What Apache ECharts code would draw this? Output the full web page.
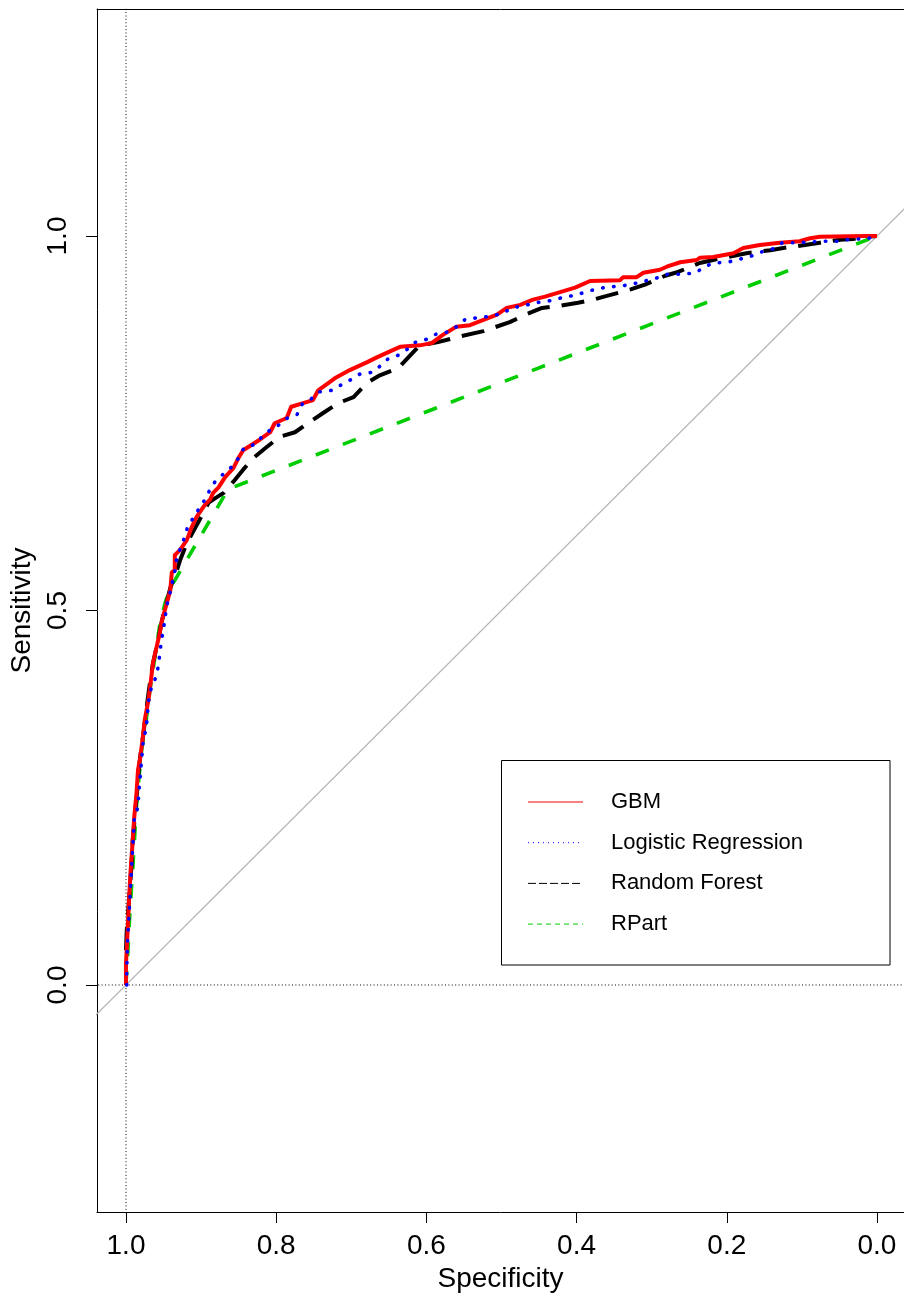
<!DOCTYPE html>
<html>
<head>
<meta charset="utf-8">
<script src="https://cdn.jsdelivr.net/npm/echarts@6/dist/echarts.min.js"></script>
<style>
html,body{margin:0;padding:0;background:#fff;}
#chart{width:904px;height:1301px;}
</style>
</head>
<body>
<div id="chart"></div>
<script>
// ---- data (specificity, sensitivity) ----
const xTicks = [0, 0.2, 0.4, 0.6, 0.8, 1.0];
const yTicks = [0, 0.5, 1.0];

const gbmSpec = [1.000,1.000,0.998,0.996,0.994,0.991,0.989,0.986,0.984,0.981,0.978,0.975,0.970,0.964,0.955,0.952,0.947,0.941,0.939,0.935,0.935,0.928,0.919,0.913,0.906,0.895,0.888,0.884,0.877,0.868,0.857,0.850,0.844,0.833,0.822,0.808,0.802,0.786,0.780,0.764,0.751,0.744,0.722,0.702,0.678,0.666,0.644,0.635,0.609,0.593,0.578,0.560,0.542,0.524,0.506,0.493,0.475,0.458,0.442,0.422,0.402,0.382,0.342,0.338,0.320,0.311,0.289,0.280,0.262,0.240,0.236,0.218,0.191,0.178,0.156,0.129,0.103,0.089,0.076,0.014,0.000];
const gbmSens = [0.000,0.029,0.069,0.113,0.150,0.194,0.224,0.256,0.287,0.304,0.327,0.354,0.381,0.430,0.470,0.487,0.505,0.527,0.551,0.554,0.574,0.581,0.594,0.610,0.625,0.641,0.648,0.657,0.664,0.678,0.690,0.704,0.714,0.721,0.728,0.738,0.750,0.757,0.772,0.777,0.781,0.794,0.810,0.821,0.832,0.838,0.848,0.852,0.854,0.857,0.868,0.879,0.881,0.888,0.895,0.904,0.908,0.915,0.919,0.925,0.931,0.940,0.941,0.945,0.945,0.951,0.955,0.959,0.965,0.968,0.971,0.972,0.977,0.984,0.988,0.991,0.993,0.997,0.999,1.000,1.000];

const lrSpec = [0.999,0.999,0.998,0.996,0.994,0.992,0.990,0.989,0.984,0.983,0.980,0.977,0.973,0.970,0.967,0.961,0.957,0.955,0.953,0.950,0.948,0.945,0.941,0.934,0.932,0.926,0.921,0.917,0.908,0.901,0.893,0.887,0.878,0.868,0.858,0.849,0.843,0.828,0.819,0.808,0.796,0.785,0.772,0.765,0.754,0.742,0.726,0.714,0.701,0.688,0.672,0.662,0.651,0.637,0.625,0.615,0.600,0.587,0.571,0.558,0.548,0.530,0.514,0.498,0.486,0.470,0.454,0.438,0.422,0.402,0.382,0.359,0.341,0.325,0.309,0.293,0.279,0.259,0.241,0.230,0.217,0.199,0.183,0.168,0.153,0.138,0.126,0.107,0.089,0.072,0.053,0.035,0.015,0.000];
const lrSens = [0.000,0.019,0.056,0.092,0.130,0.167,0.203,0.222,0.238,0.256,0.291,0.326,0.343,0.378,0.394,0.409,0.425,0.442,0.459,0.475,0.491,0.509,0.525,0.557,0.573,0.586,0.601,0.615,0.626,0.640,0.650,0.665,0.676,0.684,0.693,0.705,0.717,0.722,0.732,0.741,0.748,0.757,0.762,0.776,0.782,0.792,0.794,0.801,0.808,0.816,0.818,0.826,0.836,0.841,0.849,0.858,0.862,0.869,0.872,0.880,0.889,0.891,0.893,0.897,0.904,0.907,0.911,0.913,0.917,0.921,0.927,0.932,0.933,0.936,0.940,0.944,0.949,0.949,0.951,0.959,0.964,0.965,0.969,0.973,0.979,0.983,0.991,0.991,0.992,0.993,0.993,0.996,0.996,1.000];

const rfSpec = [1.000,1.000,0.999,0.996,0.993,0.991,0.988,0.985,0.983,0.980,0.977,0.973,0.970,0.967,0.964,0.957,0.952,0.947,0.941,0.937,0.935,0.928,0.919,0.908,0.895,0.890,0.881,0.870,0.857,0.844,0.830,0.813,0.795,0.775,0.755,0.737,0.717,0.697,0.679,0.662,0.637,0.624,0.609,0.586,0.555,0.524,0.489,0.466,0.446,0.422,0.398,0.378,0.356,0.327,0.309,0.282,0.265,0.236,0.218,0.174,0.142,0.125,0.096,0.076,0.049,0.032,0.014,0.000];
const rfSens = [0.000,0.047,0.073,0.113,0.154,0.194,0.227,0.260,0.287,0.314,0.334,0.367,0.390,0.411,0.430,0.461,0.487,0.507,0.530,0.541,0.545,0.567,0.590,0.610,0.634,0.644,0.650,0.657,0.672,0.688,0.704,0.718,0.732,0.738,0.752,0.764,0.777,0.785,0.804,0.814,0.824,0.838,0.854,0.858,0.866,0.873,0.885,0.896,0.904,0.907,0.911,0.915,0.921,0.929,0.935,0.947,0.952,0.964,0.968,0.977,0.981,0.984,0.988,0.991,0.995,0.996,0.999,1.000];

const rpSpec = [1.000,0.997,0.995,0.992,0.989,0.987,0.983,0.979,0.973,0.968,0.961,0.955,0.948,0.941,0.864,0.000];
const rpSens = [0.000,0.053,0.093,0.140,0.187,0.227,0.274,0.314,0.354,0.394,0.441,0.481,0.510,0.530,0.662,1.000];

// reference lines
const diagSpec = [1.2, -0.2];
const diagSens = [-0.2, 1.2];
const vRefSpec = [1, 1];
const vRefSens = [-0.5, 1.5];
const hRefSpec = [1.2, -0.2];
const hRefSens = [0, 0];

const legendNames = ['GBM', 'Logistic Regression', 'Random Forest', 'RPart'];

const zip = (a, b) => a.map((v, i) => [v, b[i]]);
const FONT = '"Liberation Sans", Arial, Helvetica, sans-serif';

const chart = echarts.init(document.getElementById('chart'), null, {renderer: 'canvas'});

const legendStyles = [
  {color: '#ff0000', dash: 'solid'},
  {color: '#0000ff', dash: [1, 4]},
  {color: '#000000', dash: [8, 3]},
  {color: '#00cd00', dash: [5, 4]}
];
const legendGraphics = [{
  type: 'rect',
  shape: {x: 501.5, y: 760.5, width: 388.5, height: 204.5},
  style: {fill: '#fff', stroke: '#000', lineWidth: 1},
  z: 100
}];
legendNames.forEach((name, i) => {
  const y = 802 + i * 40.7;
  legendGraphics.push({
    type: 'line',
    shape: {x1: 528, y1: y, x2: 583, y2: y},
    style: {stroke: legendStyles[i].color, lineWidth: 1, lineDash: legendStyles[i].dash === 'solid' ? null : legendStyles[i].dash},
    z: 101
  });
  legendGraphics.push({
    type: 'text',
    x: 611, y: y,
    style: {text: name, fill: '#000', font: '22px ' + FONT, textVerticalAlign: 'middle', textAlign: 'left'},
    z: 101
  });
});

const X_MIN = -0.036, X_MAX = 1.0386, Y_MIN = -0.3031, Y_MAX = 1.3031;

const option = {
  animation: false,
  backgroundColor: '#fff',
  grid: {left: 97, top: 9, right: 0, bottom: 89, show: false, containLabel: false},
  xAxis: [{
    type: 'value', inverse: true, min: X_MIN, max: X_MAX, position: 'bottom',
    splitLine: {show: false},
    axisLine: {show: true, onZero: false, lineStyle: {color: '#000', width: 1}},
    axisTick: {show: true, length: 11, customValues: xTicks, lineStyle: {color: '#000', width: 1}},
    axisLabel: {customValues: xTicks, formatter: v => Number(v).toFixed(1), fontSize: 28, color: '#000', fontFamily: FONT, margin: 20},
    name: 'Specificity', nameLocation: 'middle', nameGap: 52,
    nameTextStyle: {fontSize: 28, color: '#000', fontFamily: FONT}
  }, {
    type: 'value', inverse: true, min: X_MIN, max: X_MAX, position: 'top',
    splitLine: {show: false},
    axisLine: {show: true, onZero: false, lineStyle: {color: '#000', width: 1}},
    axisTick: {show: false}, axisLabel: {show: false}
  }],
  yAxis: {
    type: 'value', min: Y_MIN, max: Y_MAX,
    splitLine: {show: false},
    axisLine: {show: true, onZero: false, lineStyle: {color: '#000', width: 1}},
    axisTick: {show: true, length: 11, customValues: yTicks, lineStyle: {color: '#000', width: 1}},
    axisLabel: {customValues: yTicks, rotate: 90, formatter: v => Number(v).toFixed(1), fontSize: 28, color: '#000', fontFamily: FONT, margin: 25},
    name: 'Sensitivity', nameLocation: 'middle', nameGap: 61, nameRotate: 90,
    nameTextStyle: {fontSize: 28, color: '#000', fontFamily: FONT}
  },
  series: [
    {type: 'line', data: zip(diagSpec, diagSens), symbol: 'none', clip: true, silent: true,
     lineStyle: {color: '#b3b3b3', width: 1.3}},
    {type: 'line', data: zip(vRefSpec, vRefSens), symbol: 'none', clip: true, silent: true,
     lineStyle: {color: '#000', width: 1, type: [1, 2.4]}},
    {type: 'line', data: zip(hRefSpec, hRefSens), symbol: 'none', clip: true, silent: true,
     lineStyle: {color: '#000', width: 1, type: [1, 2.4]}},
    {name: 'RPart', type: 'line', data: zip(rpSpec, rpSens), symbol: 'none', clip: true,
     lineStyle: {color: '#00cd00', width: 3.6, type: [14, 15]}},
    {name: 'Random Forest', type: 'line', data: zip(rfSpec, rfSens), symbol: 'none', clip: true,
     lineStyle: {color: '#000000', width: 4, type: [23, 12]}},
    {name: 'GBM', type: 'line', data: zip(gbmSpec, gbmSens), symbol: 'none', clip: true,
     lineStyle: {color: '#ff0000', width: 4, join: 'round'}},
    {name: 'Logistic Regression', type: 'line', data: zip(lrSpec, lrSens), symbol: 'none', clip: true,
     lineStyle: {color: '#0000ff', width: 3.6, type: [0.5, 10.5], cap: 'round'}}
  ],
  graphic: legendGraphics
};
chart.setOption(option);
</script>
</body>
</html>
